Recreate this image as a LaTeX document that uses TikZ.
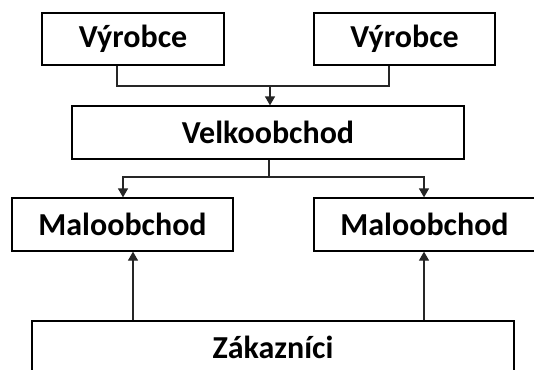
\documentclass[tikz,border=0pt]{standalone}
\usepackage{fontspec}
\setmainfont{Carlito}
\usetikzlibrary{arrows.meta}
\begin{document}
\begin{tikzpicture}[x=1pt,y=-1pt,
  box/.style={draw=black,line width=1.3pt,fill=white,inner sep=0pt,
    font=\bfseries\fontsize{32}{36}\selectfont},
  conn/.style={draw=black!85,line width=1.3pt},
  arr/.style={conn,-{Triangle[length=9pt,width=10pt]}}]
\useasboundingbox[fill=white] (0,0) rectangle (534,369);
\node[box,minimum width=182pt,minimum height=52pt] (v1) at (133,39) {Výrobce};
\node[box,minimum width=181pt,minimum height=52pt] (v2) at (404.5,39) {Výrobce};
\node[box,minimum width=392pt,minimum height=53pt] (velk) at (268,132.5) {Velkoobchod};
\node[box,minimum width=221pt,minimum height=53pt] (m1) at (122.5,224.5) {Maloobchod};
\node[box,minimum width=221pt,minimum height=53pt] (m2) at (424.5,224.5) {Maloobchod};
\node[box,minimum width=482pt,minimum height=52pt] (z) at (273,347) {Zákazníci};
\coordinate (j1) at (270,86);
\coordinate (j2) at (269,177);
\draw[conn] (v1.south -| 117,0) |- (j1) -| (v2.south -| 389,0);
\draw[arr] (j1) -- (velk.north -| j1);
\draw[conn] (velk.south -| j2) -- (j2);
\draw[arr] (j2) -| (m1.north -| 123,0);
\draw[arr] (j2) -| (m2.north -| 424,0);
\draw[arr] (z.north -| 133,0) -- (m1.south -| 133,0);
\draw[arr] (z.north -| 424,0) -- (m2.south -| 424,0);
\end{tikzpicture}
\end{document}
